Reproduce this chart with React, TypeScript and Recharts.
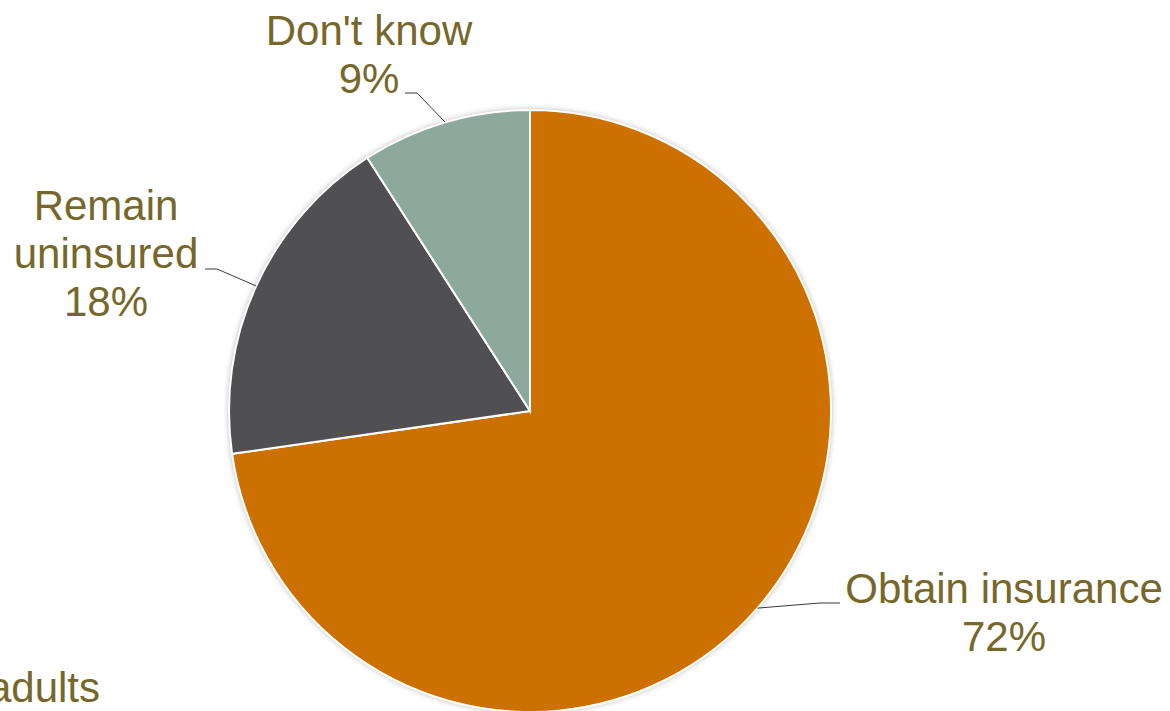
import React from 'react';
import { PieChart, Pie, Cell } from 'recharts';

const categories = ['Obtain insurance', 'Remain uninsured', "Don't know"];
const values = [72, 18, 9];
const percentLabels = ['72%', '18%', '9%'];
const colors = ['#CC7000', '#505053', '#8DA89C'];
const footnote = 'adults';

// label layout relative to pie center: text center x, first baseline y, leader end x/y, elbow x
const labelLayout = [
  { lines: ['Obtain insurance'], tx: 474, ty: 192, ex: 310, ey: 192, bx: 290 },
  { lines: ['Remain', 'uninsured'], tx: -424, ty: -191, ex: -325, ey: -142, bx: -313 },
  { lines: ["Don't know"], tx: -161, ty: -366, ex: -125, ey: -318, bx: -113 },
];

const data = categories.map((name, i) => ({ name, value: values[i], pct: percentLabels[i] }));

const TEXT_COLOR = '#76672A';
const FONT = '"Liberation Sans", Arial, sans-serif';
const RAD = Math.PI / 180;

const renderLabel = (props: any) => {
  const { cx, cy, midAngle, outerRadius, index } = props;
  const L = labelLayout[index];
  const px = cx + outerRadius * Math.cos(-midAngle * RAD);
  const py = cy + outerRadius * Math.sin(-midAngle * RAD);
  const lines = [...L.lines, data[index].pct];
  return (
    <g key={`lbl-${index}`}>
      <polyline
        points={`${px},${py} ${cx + L.bx},${cy + L.ey} ${cx + L.ex},${cy + L.ey}`}
        fill="none"
        stroke="#3a3a3a"
        strokeWidth={1}
      />
      <text
        x={cx + L.tx}
        y={cy + L.ty}
        textAnchor="middle"
        fill={TEXT_COLOR}
        fontSize={42}
        fontFamily={FONT}
      >
        {lines.map((ln, k) => (
          <tspan key={k} x={cx + L.tx} dy={k === 0 ? 0 : 48}>
            {ln}
          </tspan>
        ))}
      </text>
    </g>
  );
};

export default function App() {
  return (
    <div style={{ position: 'absolute', left: 0, top: 0, width: 1170, height: 711, background: '#fff', overflow: 'hidden' }}>
      <svg width={0} height={0} style={{ position: 'absolute' }}>
        <defs>
          <filter id="pieShadow" x="-20%" y="-20%" width="140%" height="140%">
            <feDropShadow dx={0} dy={0} stdDeviation={3} floodColor="#000" floodOpacity={0.35} />
          </filter>
        </defs>
      </svg>
      <PieChart width={1170} height={711} margin={{ top: 0, right: 0, bottom: 0, left: 0 }}>
        <Pie
          data={data}
          dataKey="value"
          cx={530}
          cy={411}
          outerRadius={301}
          startAngle={90}
          endAngle={-270}
          fill="#fff"
          stroke="none"
          isAnimationActive={false}
          style={{ filter: 'url(#pieShadow)' }}
          label={false}
          labelLine={false}
        >
          {data.map((d, i) => (
            <Cell key={i} fill="#fff" stroke="none" />
          ))}
        </Pie>
        <Pie
          data={data}
          dataKey="value"
          cx={530}
          cy={411}
          outerRadius={301}
          startAngle={90}
          endAngle={-270}
          stroke="#fff"
          strokeWidth={2}
          isAnimationActive={false}
          label={renderLabel}
          labelLine={false}
        >
          {data.map((d, i) => (
            <Cell key={i} fill={colors[i]} stroke="#fff" strokeWidth={2} />
          ))}
        </Pie>
      </PieChart>
      <svg width={1170} height={711} style={{ position: 'absolute', left: 0, top: 0, pointerEvents: 'none' }}>
        <text x={100} y={702} textAnchor="end" fill={TEXT_COLOR} fontSize={42} fontFamily={FONT}>
          {footnote}
        </text>
      </svg>
    </div>
  );
}
